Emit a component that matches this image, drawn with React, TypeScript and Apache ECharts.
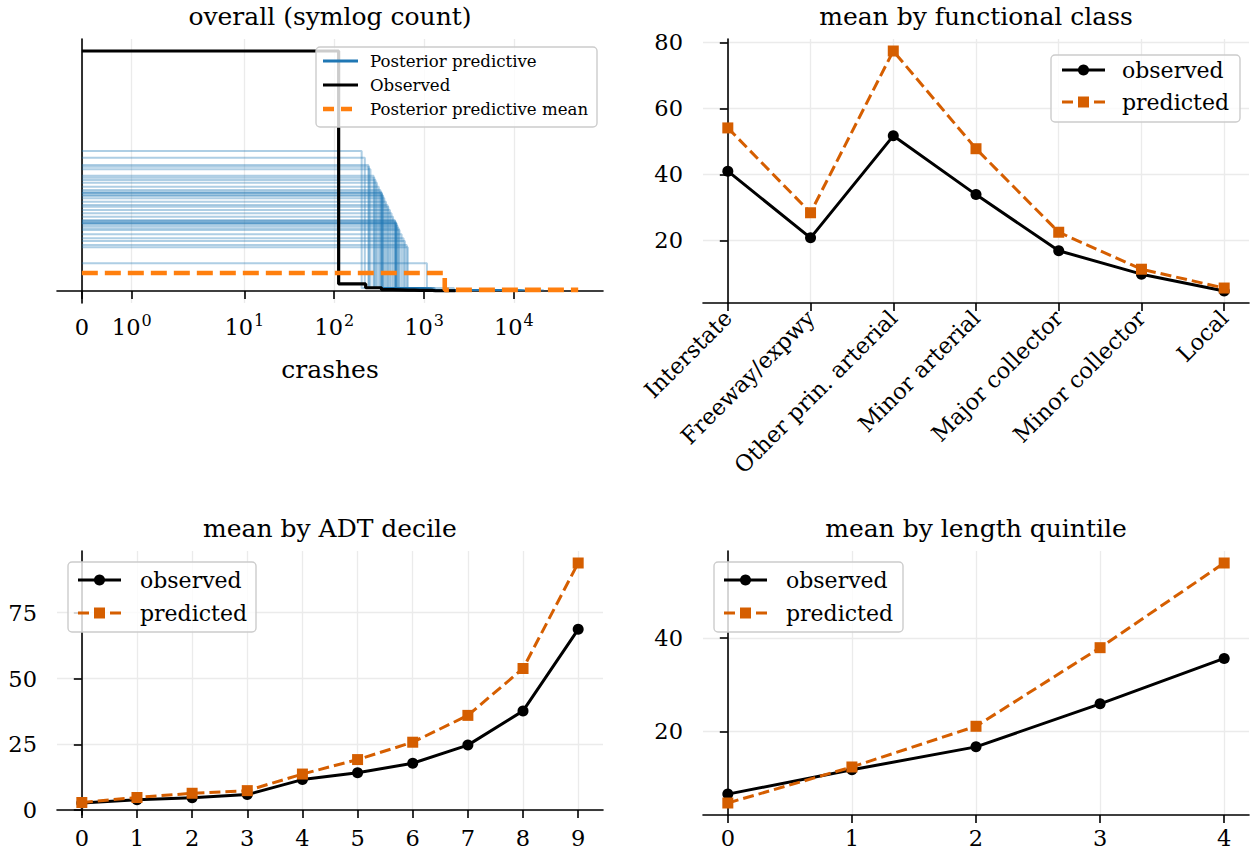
import React, { useEffect, useRef } from "react";
import * as echarts from "echarts";

const FONT = "'DejaVu Serif', serif";

// ---------- Panel 1: overall (symlog count) ----------
const xTickCrashes = [0, 1, 10, 100, 1000, 10000];
const xTickExp = ["", "0", "1", "2", "3", "4"];
const N_BINS = 20;
// observed histogram (density x1e-3), bin width in crashes
const observedBinWidth = 112;
const observedDensity = [8.8, 0.26, 0.12, 0.05, 0.04, 0.03, 0.03, 0.02, 0.02, 0.02, 0.02, 0.01, 0.01, 0.01, 0.01, 0.01, 0.01, 0.01, 0.01, 0.01];
// posterior predictive draws: first bin edge (crashes) and first bin density
const ppFirstEdge = [202, 219, 240, 244, 253, 274, 280, 288, 298, 313, 326, 333, 338, 340, 346, 351, 361, 376, 392, 400, 417, 434, 452, 472, 478, 481, 489, 491, 495, 508, 522, 533, 562, 591, 611, 641, 659, 1076];
const ppFirstDensity = [5.13, 4.89, 4.62, 4.56, 4.46, 4.23, 4.15, 4.07, 3.97, 3.82, 3.70, 3.64, 3.59, 3.58, 3.52, 3.48, 3.40, 3.27, 3.15, 3.09, 2.97, 2.85, 2.72, 2.60, 2.57, 2.54, 2.49, 2.48, 2.46, 2.38, 2.30, 2.24, 2.08, 1.93, 1.83, 1.69, 1.60, 1.02];
const ppSecondDensity = 0.11;
const ppTailDensity = 0.04;
// posterior predictive mean
const meanEdges = [0, 1700, 52000];
const meanDensity = [0.66, 0.04];

// ---------- Panel 2: mean by functional class ----------
const fcCategories = ["Interstate", "Freeway/expwy", "Other prin. arterial", "Minor arterial", "Major collector", "Minor collector", "Local"];
const fcObserved = [41.0, 20.8, 51.7, 33.9, 16.9, 9.8, 4.7];
const fcPredicted = [54.1, 28.4, 77.4, 47.8, 22.5, 11.3, 5.6];
const fcYTicks = [20, 40, 60, 80];

// ---------- Panel 3: mean by ADT decile ----------
const adtDeciles = [0, 1, 2, 3, 4, 5, 6, 7, 8, 9];
const adtObserved = [2.7, 3.9, 4.7, 5.9, 11.6, 14.2, 17.8, 24.7, 37.7, 68.7];
const adtPredicted = [2.9, 4.8, 6.4, 7.4, 13.7, 19.2, 25.8, 36.0, 53.8, 93.9];
const adtYTicks = [0, 25, 50, 75];

// ---------- Panel 4: mean by length quintile ----------
const lenQuintiles = [0, 1, 2, 3, 4];
const lenObserved = [6.6, 11.8, 16.7, 25.9, 35.6];
const lenPredicted = [4.7, 12.4, 21.1, 37.9, 56.0];
const lenYTicks = [20, 40];

// ---------- styling ----------
const BLUE = "#1f77b4";
const ORANGE = "#ff7f0e";
const PRED = "#d55e00";
const GRIDC = "#ebebeb";
const TICK_FS = 22.5;
const TITLE_FS = 25;
const LEG_FS = 22;

// symlog transform (linthresh 2, linscale 1, base 10)
const LT = 2;
const LSADJ = 1 / (1 - 1 / 10);
const symlog = (x: number) =>
  Math.abs(x) <= LT ? x * LSADJ : Math.sign(x) * LT * (LSADJ + Math.log10(Math.abs(x) / LT));

function stairs(edges: number[], vals: number[]) {
  const pts: number[][] = [];
  for (let i = 0; i < vals.length; i++) {
    pts.push([symlog(edges[i]), vals[i]]);
    pts.push([symlog(edges[i + 1]), vals[i]]);
  }
  return pts;
}

function padRange(lo: number, hi: number) {
  const m = (hi - lo) * 0.05;
  return [lo - m, hi + m];
}

const GRIDS = [
  { left: 57, top: 39, width: 546, height: 264 },
  { left: 703, top: 39, width: 546, height: 264 },
  { left: 57, top: 551, width: 546, height: 264 },
  { left: 703, top: 551, width: 546, height: 264 },
];

const ZL = 100;

function legendGraphic(
  x: number, y: number, w: number, h: number,
  rows: { label: string; color: string; width: number; dash?: number[]; marker?: "circle" | "rect" }[],
  rowY: number[], hx0: number, hx1: number, tx: number, fs: number
) {
  const children: any[] = [
    {
      type: "rect",
      z: ZL,
      shape: { x, y, width: w, height: h, r: 4 },
      style: { fill: "rgba(255,255,255,0.8)", stroke: "#cccccc", lineWidth: 1.4 },
    },
  ];
  rows.forEach((r, i) => {
    const cy = rowY[i];
    children.push({
      type: "line",
      z: ZL + 1,
      shape: { x1: hx0, y1: cy, x2: hx1, y2: cy },
      style: { stroke: r.color, lineWidth: r.width, lineDash: r.dash || null },
    });
    const cx = (hx0 + hx1) / 2;
    if (r.marker === "circle") {
      children.push({ type: "circle", z: ZL + 2, shape: { cx, cy, r: 5.5 }, style: { fill: r.color } });
    } else if (r.marker === "rect") {
      children.push({ type: "rect", z: ZL + 2, shape: { x: cx - 5.5, y: cy - 5.5, width: 11, height: 11 }, style: { fill: r.color } });
    }
    children.push({
      type: "text",
      z: ZL + 2,
      style: { text: r.label, x: tx, y: cy, fontSize: fs, fontFamily: FONT, fill: "#000", verticalAlign: "middle", align: "left" },
    });
  });
  return { type: "group", z: ZL, children };
}

function titleGraphic(text: string, cx: number, cy: number) {
  return {
    type: "text",
    z: ZL,
    style: { text, x: cx, y: cy, fontSize: TITLE_FS, fontFamily: FONT, fill: "#000", align: "center", verticalAlign: "middle" },
  };
}

export default function App() {
  const ref = useRef<HTMLDivElement>(null);
  useEffect(() => {
    document.body.style.margin = "0";
    document.body.style.overflow = "hidden";
    const chart = echarts.init(ref.current!, null, { renderer: "svg" });

    // ----- panel 1 data -----
    const xTickVals = xTickCrashes.map(symlog);
    const ppSeries = ppFirstEdge.map((e, i) => ({
      type: "line",
      name: "Posterior predictive",
      xAxisIndex: 0,
      yAxisIndex: 0,
      showSymbol: false,
      silent: true,
      data: stairs([0, e, 2 * e, N_BINS * e], [ppFirstDensity[i], ppSecondDensity, ppTailDensity]),
      lineStyle: { color: BLUE, width: 2, opacity: 0.36 },
      z: 2,
    }));
    const obsEdges = observedDensity.map((_, i) => i * observedBinWidth).concat([observedDensity.length * observedBinWidth]);
    const obsSeries = {
      type: "line",
      name: "Observed",
      xAxisIndex: 0,
      yAxisIndex: 0,
      showSymbol: false,
      silent: true,
      data: stairs(obsEdges, observedDensity),
      lineStyle: { color: "#000", width: 3.2 },
      z: 3,
    };
    const meanSeries = {
      type: "line",
      name: "Posterior predictive mean",
      xAxisIndex: 0,
      yAxisIndex: 0,
      showSymbol: false,
      silent: true,
      data: stairs(meanEdges, meanDensity),
      lineStyle: { color: ORANGE, width: 4.6, type: [16, 7] },
      z: 4,
    };
    const allX = [0, symlog(meanEdges[meanEdges.length - 1])];
    const p1x = padRange(allX[0], allX[1]);
    const p1yMax = Math.max(...observedDensity, ...ppFirstDensity);
    const p1y = padRange(0, p1yMax);

    const p2y = padRange(Math.min(...fcObserved, ...fcPredicted), Math.max(...fcObserved, ...fcPredicted));
    const p3y = padRange(Math.min(...adtObserved, ...adtPredicted), Math.max(...adtObserved, ...adtPredicted));
    const p4y = padRange(Math.min(...lenObserved, ...lenPredicted), Math.max(...lenObserved, ...lenPredicted));

    const axLine = { show: true, lineStyle: { color: "#000", width: 1.6 } };
    const axTick = (vals: number[]) => ({ show: true, customValues: vals, length: 8, lineStyle: { color: "#000", width: 1.6 } });
    const split = { show: true, lineStyle: { color: GRIDC, width: 1.3 } };
    const lbl = { fontSize: TICK_FS, fontFamily: FONT, color: "#000" };

    const catX = (n: number, gi: number, extra: any = {}) => ({
      type: "value",
      gridIndex: gi,
      min: padRange(0, n - 1)[0],
      max: padRange(0, n - 1)[1],
      axisLine: axLine,
      axisTick: axTick(Array.from({ length: n }, (_, i) => i)),
      splitLine: split,
      axisLabel: { ...lbl, customValues: Array.from({ length: n }, (_, i) => i), margin: 11, ...extra },
    });
    const valY = (gi: number, r: number[], ticks: number[]) => ({
      type: "value",
      gridIndex: gi,
      min: r[0],
      max: r[1],
      axisLine: axLine,
      axisTick: axTick(ticks),
      splitLine: split,
      axisLabel: { ...lbl, customValues: ticks, margin: 20, formatter: (v: number) => String(Math.round(v)) },
    });

    const lineSeries = (gi: number, xs: number[], ys: number[], kind: "obs" | "pred") => ({
      type: "line",
      xAxisIndex: gi,
      yAxisIndex: gi,
      name: kind === "obs" ? "observed" : "predicted",
      data: xs.map((x, i) => [x, ys[i]]),
      symbol: kind === "obs" ? "circle" : "rect",
      symbolSize: 11,
      showSymbol: true,
      silent: true,
      itemStyle: { color: kind === "obs" ? "#000" : PRED },
      lineStyle: kind === "obs" ? { color: "#000", width: 3 } : { color: PRED, width: 3, type: [11, 5] },
      z: kind === "obs" ? 3 : 4,
    });

    const option: any = {
      animation: false,
      backgroundColor: "#fff",
      grid: GRIDS.map((g) => ({ ...g, containLabel: false })),
      xAxis: [
        {
          type: "value",
          gridIndex: 0,
          min: p1x[0],
          max: p1x[1],
          axisLine: axLine,
          axisTick: axTick(xTickVals),
          splitLine: split,
          axisLabel: {
            customValues: xTickVals,
            margin: 9,
            formatter: (v: number) => {
              const i = xTickVals.findIndex((t) => Math.abs(t - v) < 1e-6);
              if (i <= 0) return "{b|0}";
              return `{b|10}{s|${xTickExp[i]}}`;
            },
            rich: {
              b: { fontSize: TICK_FS, fontFamily: FONT, color: "#000", lineHeight: 26, verticalAlign: "bottom" },
              s: { fontSize: 16, fontFamily: FONT, color: "#000", lineHeight: 26, verticalAlign: "bottom", padding: [0, 0, 10, 1] },
            },
          },
          name: "crashes",
          nameLocation: "middle",
          nameGap: 54,
          nameTextStyle: { fontSize: TITLE_FS, fontFamily: FONT, color: "#000" },
        },
        catX(fcCategories.length, 1, {
          rotate: 45,
          formatter: (v: number) => fcCategories[Math.round(v)] ?? "",
        }),
        catX(adtDeciles.length, 2, { formatter: (v: number) => String(adtDeciles[Math.round(v)]) }),
        catX(lenQuintiles.length, 3, { formatter: (v: number) => String(lenQuintiles[Math.round(v)]) }),
      ],
      yAxis: [
        {
          type: "value",
          gridIndex: 0,
          min: p1y[0],
          max: p1y[1],
          axisLine: axLine,
          axisTick: { show: false },
          axisLabel: { show: false },
          splitLine: { show: false },
        },
        valY(1, p2y, fcYTicks),
        valY(2, p3y, adtYTicks),
        valY(3, p4y, lenYTicks),
      ],
      series: [
        ...ppSeries,
        obsSeries,
        meanSeries,
        lineSeries(1, fcCategories.map((_, i) => i), fcObserved, "obs"),
        lineSeries(1, fcCategories.map((_, i) => i), fcPredicted, "pred"),
        lineSeries(2, adtDeciles, adtObserved, "obs"),
        lineSeries(2, adtDeciles, adtPredicted, "pred"),
        lineSeries(3, lenQuintiles, lenObserved, "obs"),
        lineSeries(3, lenQuintiles, lenPredicted, "pred"),
      ],
      graphic: [
        titleGraphic("overall (symlog count)", 330, 16),
        titleGraphic("mean by functional class", 976, 16),
        titleGraphic("mean by ADT decile", 330, 528),
        titleGraphic("mean by length quintile", 976, 528),
        legendGraphic(
          316, 47, 281, 80,
          [
            { label: "Posterior predictive", color: BLUE, width: 3 },
            { label: "Observed", color: "#000", width: 3 },
            { label: "Posterior predictive mean", color: ORANGE, width: 4.6, dash: [11, 7] },
          ],
          [61, 85, 109], 323, 358, 370, 16.6
        ),
        legendGraphic(
          1051, 55, 189, 67,
          [
            { label: "observed", color: "#000", width: 3, marker: "circle" },
            { label: "predicted", color: PRED, width: 3, dash: [11, 5], marker: "rect" },
          ],
          [70, 102], 1062, 1105, 1122, LEG_FS
        ),
        legendGraphic(
          68, 562, 188, 70,
          [
            { label: "observed", color: "#000", width: 3, marker: "circle" },
            { label: "predicted", color: PRED, width: 3, dash: [11, 5], marker: "rect" },
          ],
          [580, 613], 78, 121, 140, LEG_FS
        ),
        legendGraphic(
          714, 562, 189, 70,
          [
            { label: "observed", color: "#000", width: 3, marker: "circle" },
            { label: "predicted", color: PRED, width: 3, dash: [11, 5], marker: "rect" },
          ],
          [580, 613], 724, 767, 786, LEG_FS
        ),
      ],
    };
    chart.setOption(option);
    return () => chart.dispose();
  }, []);
  return <div ref={ref} style={{ width: 1251, height: 857 }} />;
}
